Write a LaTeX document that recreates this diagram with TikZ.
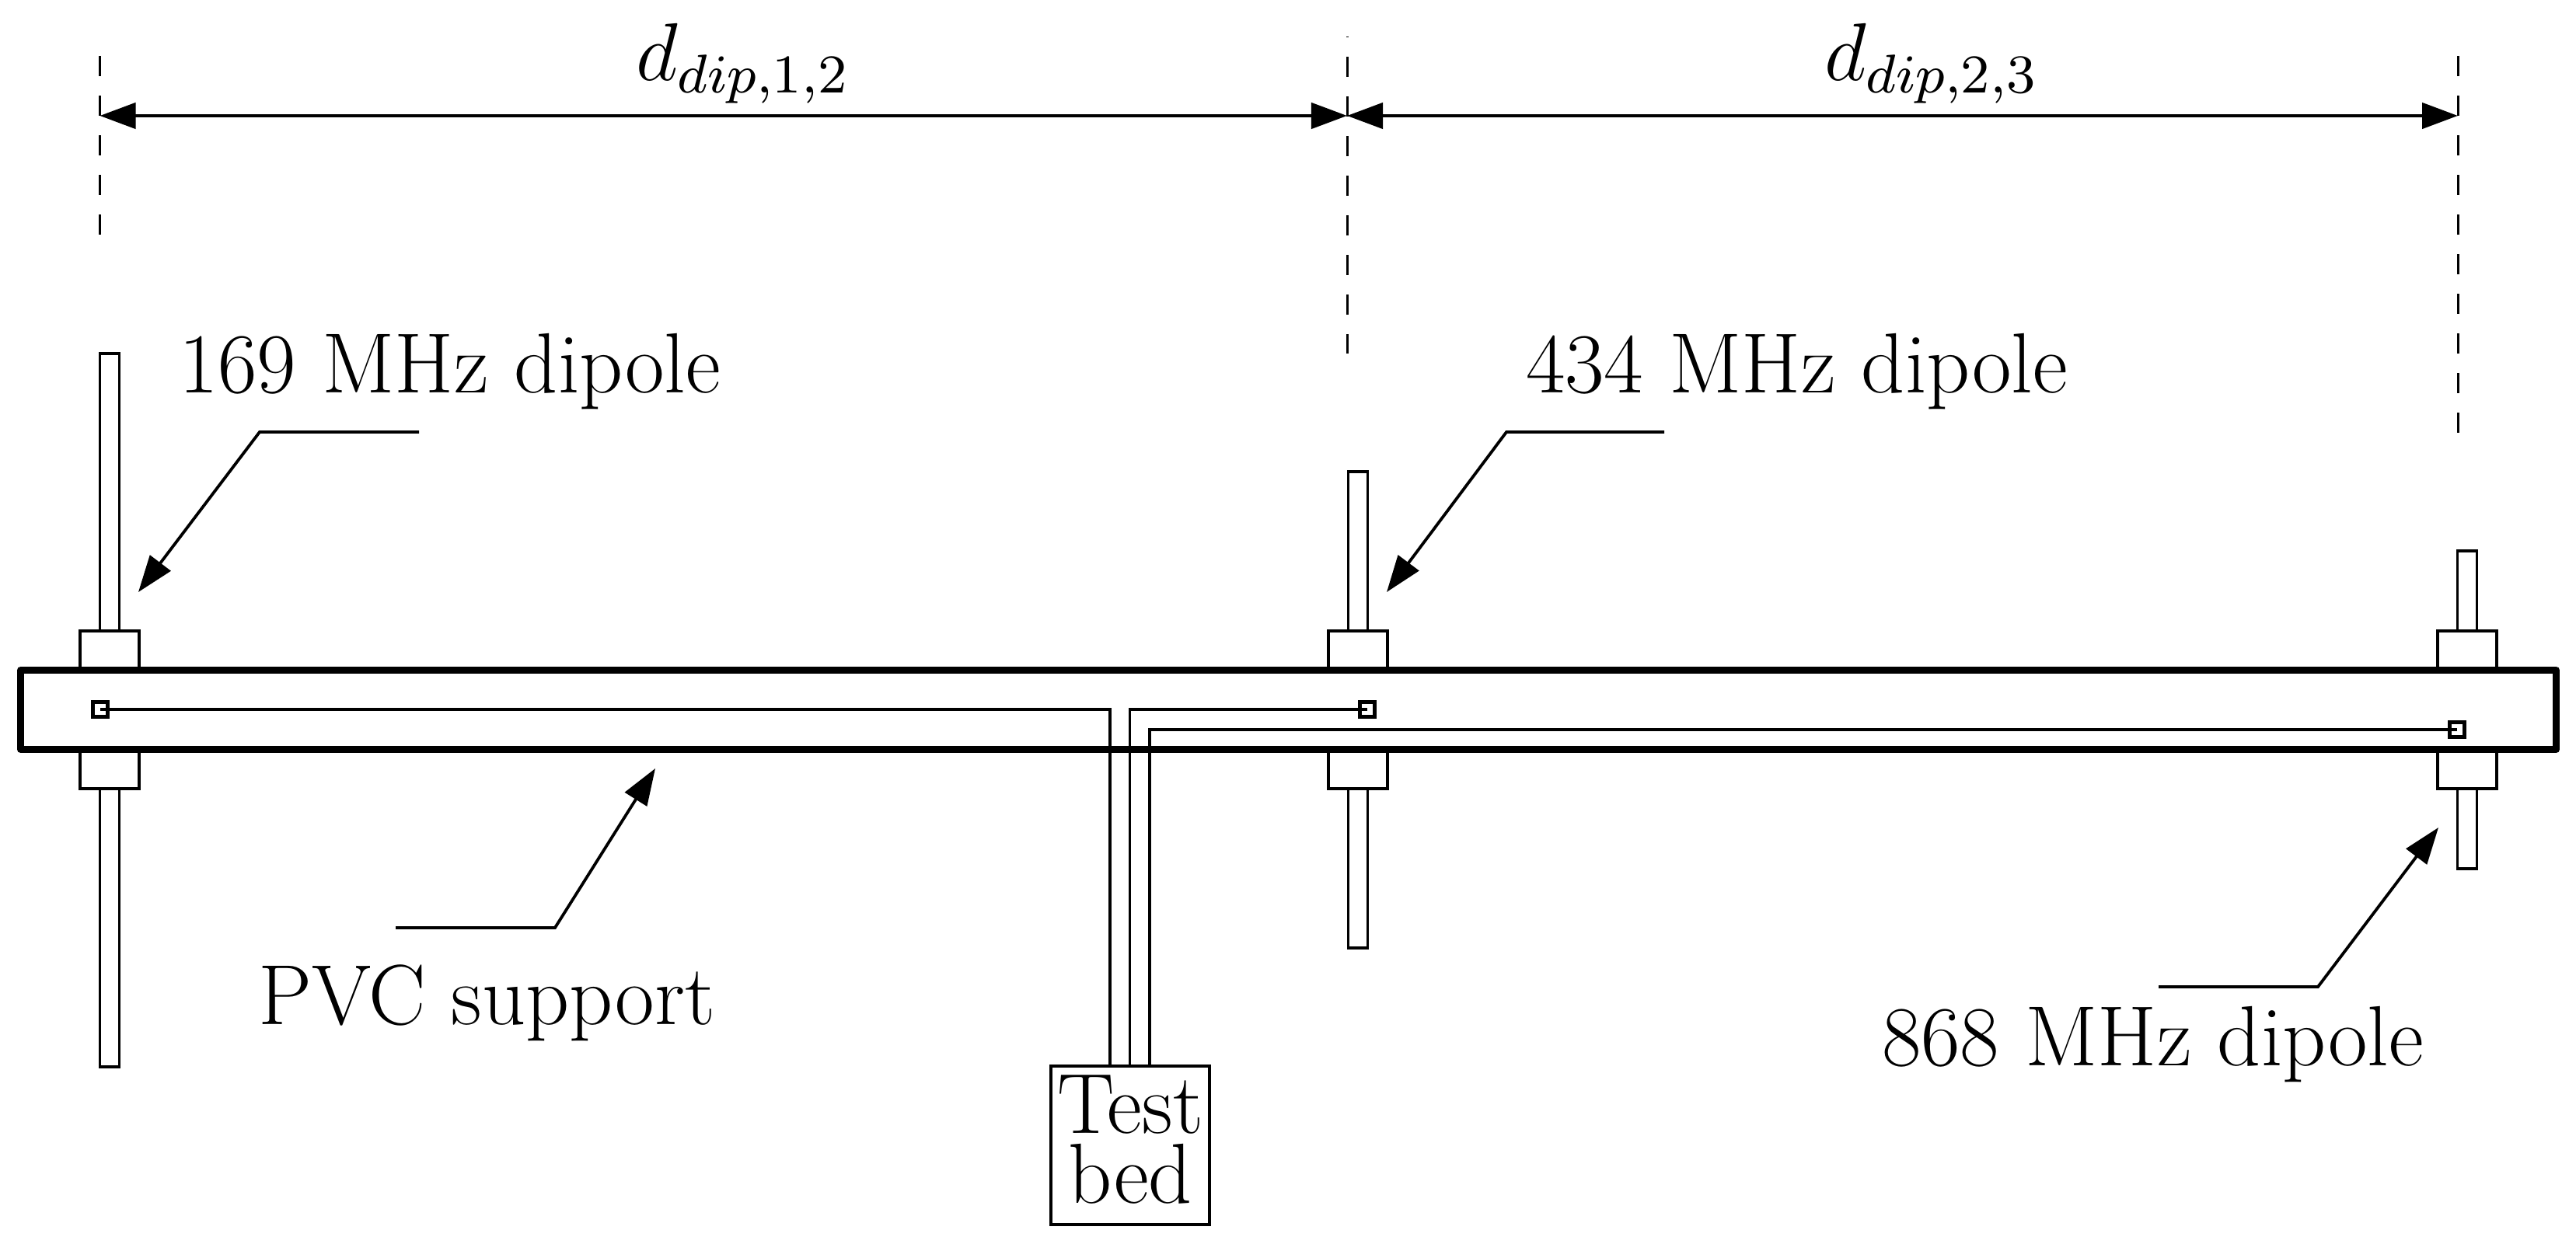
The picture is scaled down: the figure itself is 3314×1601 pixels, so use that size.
\documentclass[tikz,border=0pt]{standalone}
\usetikzlibrary{arrows.meta}
\newcommand\Dipole[3]{%
    \draw[rodline] ({#1-12.5},#2) rectangle ({#1+12.5},#3);
    \draw[rodline,fill=white] ({#1-38},812) rectangle ({#1+38},1015);
}
\newcommand\DashGuide[4][]{%
    \draw[dashline,#1] (#2,#3) -- (#2,#4);
}
\tikzset{
    every node/.style={inner sep=0pt,outer sep=0pt},
    rodline/.style={line width=0.038cm},
    dashline/.style={line width=0.03cm,dash pattern=on 0.26cm off 0.25cm},
    dimline/.style={{Triangle[length=0.46cm,width=0.33cm]}-{Triangle[length=0.46cm,width=0.33cm]},line width=0.045cm},
    leader/.style={-{Triangle[length=0.47cm,width=0.33cm]},line width=0.038cm},
    wire/.style={line width=0.033cm},
    terminal/.style={draw,line width=0.055cm,minimum size=0.19cm},
    bigtext/.style={font=\fontsize{24.88}{20.4}\selectfont,scale=1.256},
    label/.style={bigtext,anchor=base west},
    distlabel/.style={font=\fontsize{12}{14}\selectfont,scale=2.5,anchor=base west},
}
\begin{document}
\begin{tikzpicture}[x=0.01cm,y=-0.01cm]
    \useasboundingbox (0,0) rectangle (3314,1601);
    \DashGuide{128.5}{72}{302}
    \DashGuide[dash phase=0.25cm]{1733}{47}{455}
    \DashGuide{3162}{72}{557}
    \coordinate (DimA) at (128.5,149);
    \coordinate (DimB) at (1733,149);
    \coordinate (DimC) at (3162,149);
    \draw[dimline] (DimA) -- (DimB);
    \draw[dimline] (DimB) -- (DimC);
    \node[distlabel] (DistA) at (818,104) {$d_{dip,1,2}$};
    \node[distlabel] (DistB) at (2347,104) {$d_{dip,2,3}$};
    \Dipole{141}{455}{1373}
    \Dipole{1747}{607}{1220}
    \Dipole{3174}{709}{1118}
    \draw[line width=0.09cm,line join=round,fill=white] (26.5,862.5) rectangle (3288.5,964.5);
    \node[bigtext,draw,line width=0.04cm,minimum size=1.616cm,align=center,text depth=0.127cm] (TestBed) at (1454,1474) {Test\\bed};
    \node[terminal] (TermA) at (129,913) {};
    \node[terminal] (TermB) at (1759,913) {};
    \node[terminal] (TermC) at (3161,939) {};
    \coordinate (WireA) at (1428,1372);
    \coordinate (WireB) at (1453.5,1372);
    \coordinate (WireC) at (1479,1372);
    \draw[wire] (TermA.center) -| (WireA);
    \draw[wire] (TermB.center) -| (WireB);
    \draw[wire] (TermC.center) -| (WireC);
    \node[label] (LabelA) at (230,506) {169 MHz dipole};
    \node[label] (LabelB) at (1963,506) {434 MHz dipole};
    \node[label] (LabelC) at (332,1318) {PVC support};
    \node[label] (LabelD) at (2421,1371) {868 MHz dipole};
    \coordinate (TipA) at (178,762);
    \coordinate (TipB) at (1784,762);
    \coordinate (TipC) at (843,989);
    \coordinate (TipD) at (3137,1065);
    \draw[leader] (539,556) -- (334,556) -- (TipA);
    \draw[leader] (2141,556) -- (1938,556) -- (TipB);
    \draw[leader] (509,1194) -- (714,1194) -- (TipC);
    \draw[leader] (2777,1270) -- (2982,1270) -- (TipD);
\end{tikzpicture}
\end{document}
